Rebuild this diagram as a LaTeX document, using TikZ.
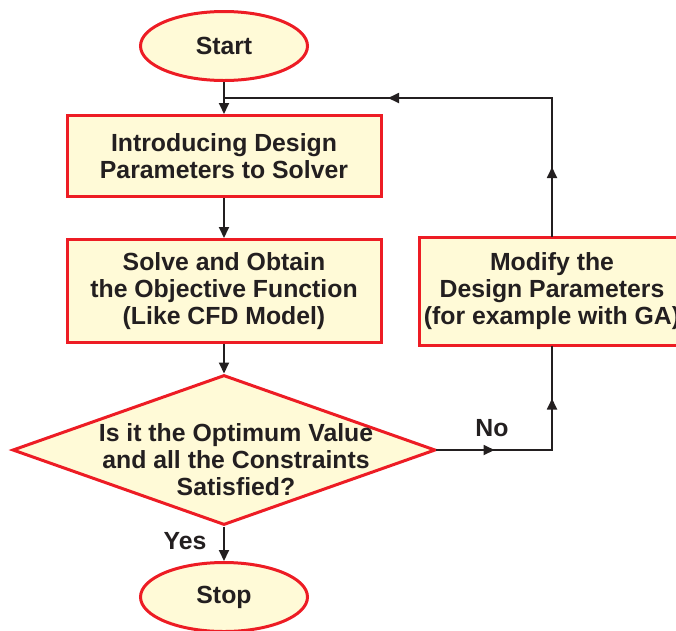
\documentclass[tikz,border=0pt]{standalone}
\usepackage{fontspec}
\setmainfont{Liberation Sans}
\usetikzlibrary{shapes.geometric,arrows.meta,decorations.markings}
\definecolor{boxfill}{RGB}{255,250,215}
\definecolor{boxred}{RGB}{237,28,36}
\definecolor{ink}{RGB}{35,31,32}
\tikzset{
  txt/.style={text=ink, font=\fontsize{24.8}{27}\selectfont\bfseries, align=center, inner sep=0pt},
  base/.style={txt, draw=boxred, fill=boxfill, line width=3pt},
  term/.style={base, ellipse, minimum width=167pt, minimum height=69pt},
  proc/.style={base, rectangle},
  decide/.style={base, diamond, minimum width=423pt, minimum height=150pt},
  conn/.style={draw=ink, line width=1.8pt, -{Triangle[length=11pt,width=10pt]}},
  flow/.style={draw=ink, line width=1.8pt, line cap=rect},
  midarrow/.style={flow, postaction={decorate},
    decoration={markings, mark=at position 0.5 with {\arrow{Triangle[length=11pt,width=10pt]}}}},
}
\begin{document}
\begin{tikzpicture}[x=1pt,y=-1pt]
\useasboundingbox (0,0) rectangle (676,630);
\clip (0,0) rectangle (676,630);
\node[term] (start) at (224,46) {Start};
\node[proc, minimum width=314pt, minimum height=81pt] (intro) at (224,156) {Introducing Design\\Parameters to Solver};
\node[proc, minimum width=314pt, minimum height=103pt] (solve) at (224,291) {Solve and Obtain\\the Objective Function\\(Like CFD Model)};
\node[decide] (check) at (224,450) {};
\node[txt] (checktext) at (236,460) {Is it the Optimum Value\\and all the Constraints\\Satisfied?};
\node[term] (stop) at (224,597) {Stop};
\node[proc, minimum width=266pt, minimum height=108pt] (modify) at (552,291.5) {Modify the\\Design Parameters\\(for example with GA)};
\node[txt] (nolbl) at (492,428) {No};
\node[txt] (yeslbl) at (185,541) {Yes};
\coordinate (join) at (224,98);
\coordinate (cornerR) at (modify.south |- check.east);
\coordinate (cornerT) at (modify.north |- join);
\draw[conn] (start) -- (intro);
\draw[conn] (intro) -- (solve);
\draw[conn] (solve) -- (check);
\draw[conn] (check) -- (stop);
\draw[midarrow] (check.east) -- (cornerR);
\draw[midarrow] (cornerR) -- (modify.south);
\draw[midarrow] (modify.north) -- (cornerT);
\draw[midarrow] (cornerT) -- (join);
\end{tikzpicture}
\end{document}
